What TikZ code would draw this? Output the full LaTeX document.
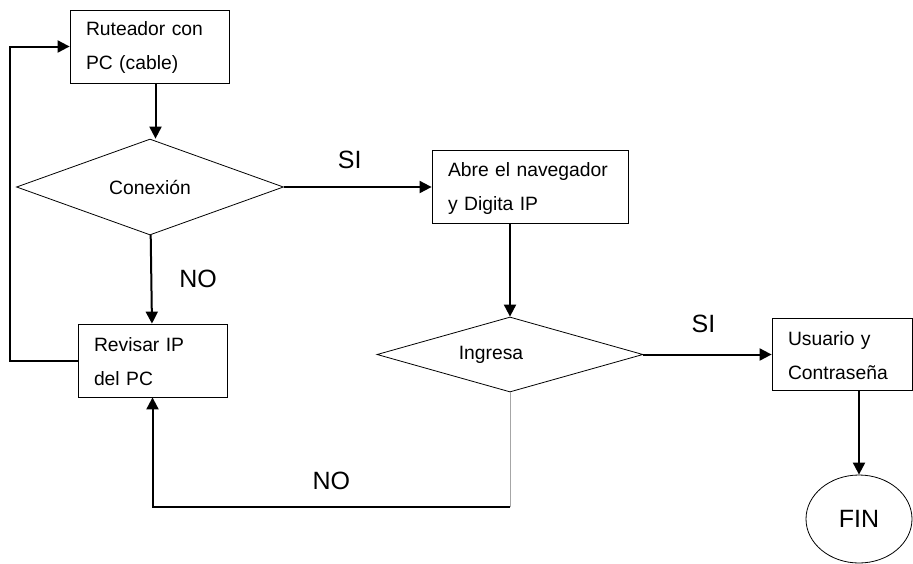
\documentclass[tikz,border=0pt]{standalone}
\usepackage{fontspec}
\setmainfont{Liberation Sans}
\usetikzlibrary{shapes.geometric,arrows.meta}

\begin{document}
\begin{tikzpicture}[x=1pt,y=-1pt,
	caja/.style={draw, line width=0.8pt, inner xsep=16pt, inner ysep=0pt, minimum height=73pt, align=left, font=\fontsize{19.3}{34}\selectfont,
		execute at begin node=\rule{0pt}{16pt}, execute at end node=\rule[-1pt]{0pt}{1pt}},
	decision/.style={diamond, draw, line width=0.8pt, inner sep=0pt, font=\fontsize{19.3}{23}\selectfont},
	flecha/.style={line width=2pt, -{Triangle[length=12pt,width=12pt]}},
	etiqueta/.style={inner sep=0pt, font=\fontsize{25}{30}\selectfont}]
	\useasboundingbox (0,0) rectangle (913,563);
	% cajas y decisiones
	\node[caja, text width=127pt] (ruteador) at (149.5,46.5) {Ruteador con\\PC (cable)};
	\node[decision, minimum width=267pt, minimum height=72pt] (conexion) at (150,187) {Conexión};
	\node[caja, text width=164pt] (navegador) at (530,187) {Abre el navegador\\y Digita IP};
	\node[caja, text width=117pt] (revisar) at (152.5,360.5) {Revisar IP\\del PC};
	\node[decision, minimum width=266pt, minimum height=75pt] (ingresa) at (510,354.5) {\hspace*{-38pt}Ingresa};
	\node[caja, text width=108pt, minimum height=72pt] (usuario) at (842,354.5) {Usuario y\\Contraseña};
	\node[ellipse, draw, line width=0.8pt, minimum width=106pt, minimum height=88pt, inner sep=0pt, font=\fontsize{25}{30}\selectfont] (fin) at (859,519) {FIN};
	\coordinate (esquina) at (510,507);
	% conectores
	\draw[flecha] ([xshift=6pt]ruteador.south) -- ([xshift=6pt]ruteador.south |- conexion.north);
	\draw[flecha] (conexion) -- node[etiqueta, anchor=base, yshift=19pt, xshift=-8pt] {SI} (navegador);
	\draw[flecha] (conexion) -- node[etiqueta, right=27pt] {NO} (revisar);
	\draw[flecha] (revisar.west) -- ++(-68,0) |- (ruteador.west);
	\draw[flecha] (navegador.south -| ingresa.north) -- (ingresa.north);
	\draw[flecha] (ingresa) -- node[etiqueta, anchor=base, yshift=22pt, xshift=-4pt] {SI} (usuario);
	\draw[flecha] (usuario.south -| fin.north) -- (fin.north);
	\draw[gray!70, line width=0.8pt] (ingresa.south) -- (esquina);
	\draw[flecha] (esquina) -- node[etiqueta, anchor=base, yshift=18pt] {NO} (esquina -| revisar.south) -- (revisar.south);
\end{tikzpicture}
\end{document}
